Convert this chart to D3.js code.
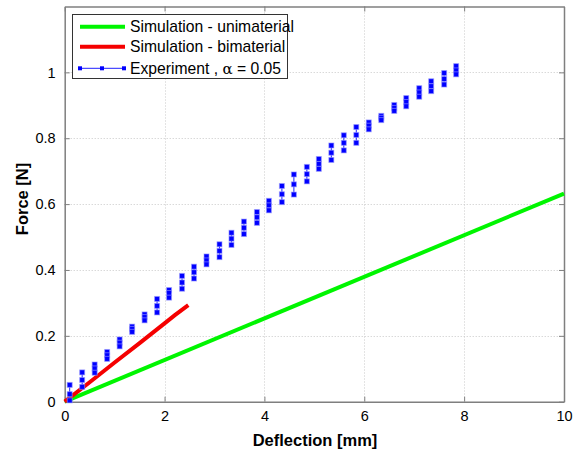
<!DOCTYPE html>
<html><head><meta charset="utf-8">
<script src="https://cdn.jsdelivr.net/npm/d3@7/dist/d3.min.js"></script>
<style>body{margin:0;background:#fff}svg{display:block}</style>
</head><body><div id="chart"></div>
<script>
// Simulation - unimaterial
const uniX = [0, 10];
const uniY = [0, 0.632];
// Simulation - bimaterial
const biX = [0, 0.5, 1.0, 1.5, 2.0, 2.2, 2.475];
const biY = [0, 0.059, 0.119, 0.178, 0.238, 0.262, 0.293];
// Experiment groups (x, high, mid, low)
const expX = [0.1, 0.35, 0.6, 0.85, 1.1, 1.35, 1.6, 1.85, 2.09, 2.35, 2.59, 2.84, 3.1, 3.34, 3.59, 3.85,
  4.09, 4.35, 4.59, 4.85, 5.09, 5.34, 5.59, 5.84, 6.09, 6.34, 6.6, 6.84, 7.1, 7.34, 7.6, 7.84];
const expHigh = [0.051, 0.089, 0.113, 0.151, 0.189, 0.228, 0.265, 0.312, 0.339, 0.382, 0.410, 0.441, 0.478, 0.513, 0.547, 0.576,
  0.610, 0.655, 0.690, 0.713, 0.737, 0.778, 0.809, 0.834, 0.848, 0.868, 0.901, 0.922, 0.952, 0.973, 0.998, 1.019];
const expMid = [0.023, 0.066, 0.101, 0.141, 0.179, 0.221, 0.257, 0.291, 0.330, 0.362, 0.393, 0.429, 0.458, 0.495, 0.528, 0.560,
  0.596, 0.630, 0.660, 0.691, 0.722, 0.756, 0.786, 0.810, 0.838, 0.862, 0.892, 0.910, 0.939, 0.958, 0.980, 1.006];
const expLow = [0.004, 0.045, 0.088, 0.130, 0.168, 0.212, 0.247, 0.271, 0.316, 0.343, 0.374, 0.417, 0.439, 0.476, 0.509, 0.543,
  0.581, 0.606, 0.629, 0.669, 0.707, 0.734, 0.763, 0.786, 0.827, 0.855, 0.883, 0.897, 0.926, 0.943, 0.963, 0.994];
const xTicks = [0, 2, 4, 6, 8, 10];
const yTicks = [0, 0.2, 0.4, 0.6, 0.8, 1];
const legendLabels = ["Simulation - unimaterial", "Simulation - bimaterial", "Experiment , "];

const W = 575, H = 453;
const m = {left: 64.7, right: 564, top: 6.5, bottom: 401.7};
const svg = d3.select("#chart").append("svg").attr("width", W).attr("height", H)
  .style("font-family", "Arial, 'Liberation Sans', Helvetica, sans-serif");
const x = d3.scaleLinear().domain([0, 10]).range([m.left, m.right]);
const y = d3.scaleLinear().domain([0, 1.2]).range([m.bottom, m.top]);

// grid
const grid = svg.append("g").attr("stroke", "#c8c8c8").attr("stroke-width", 1).attr("stroke-dasharray", "1,2");
xTicks.slice(1, -1).forEach(t => grid.append("line").attr("x1", Math.round(x(t)) + 0.5).attr("x2", Math.round(x(t)) + 0.5).attr("y1", m.top).attr("y2", m.bottom));
yTicks.slice(1).forEach(t => grid.append("line").attr("y1", Math.round(y(t)) + 0.5).attr("y2", Math.round(y(t)) + 0.5).attr("x1", m.left).attr("x2", m.right));

// axes
const axColor = "#7f7f7f";
const gx = svg.append("g").attr("transform", `translate(0,${m.bottom})`)
  .call(d3.axisBottom(x).tickValues(xTicks).tickFormat(d3.format("d")).tickSizeInner(-5).tickSizeOuter(0).tickPadding(9));
const gxt = svg.append("g").attr("transform", `translate(0,${m.top})`)
  .call(d3.axisTop(x).tickValues(xTicks).tickFormat("").tickSizeInner(-5).tickSizeOuter(0));
const gy = svg.append("g").attr("transform", `translate(${m.left},0)`)
  .call(d3.axisLeft(y).tickValues(yTicks).tickFormat(d => d === 0 ? "0" : d3.format("")(+d.toFixed(1))).tickSizeInner(-5).tickSizeOuter(0).tickPadding(9));
const gyr = svg.append("g").attr("transform", `translate(${m.right},0)`)
  .call(d3.axisRight(y).tickValues(yTicks).tickFormat("").tickSizeInner(-5).tickSizeOuter(0));
[gx, gxt, gy, gyr].forEach(g => {
  g.selectAll("path.domain").attr("stroke", axColor).attr("stroke-width", 1.5);
  g.selectAll(".tick line").attr("stroke", axColor);
  g.selectAll("text").attr("fill", "#000").style("font-size", "14.5px").style("font-family", "Arial, 'Liberation Sans', sans-serif");
});
gx.selectAll(".tick text").attr("dy", "0.71em");

// lines
const line = d3.line().x(d => x(d[0])).y(d => y(d[1]));
svg.append("path").datum(uniX.map((v, i) => [v, uniY[i]])).attr("d", line)
  .attr("fill", "none").attr("stroke", "#00f500").attr("stroke-width", 4);
svg.append("path").datum(biX.map((v, i) => [v, biY[i]])).attr("d", line)
  .attr("fill", "none").attr("stroke", "#f50000").attr("stroke-width", 4);

// experiment
const eg = svg.append("g");
expX.forEach((xv, i) => {
  eg.append("line").attr("x1", x(xv)).attr("x2", x(xv)).attr("y1", y(expLow[i])).attr("y2", y(expHigh[i]))
    .attr("stroke", "#2020ff").attr("stroke-width", 1);
  [expHigh[i], expMid[i], expLow[i]].forEach(v => {
    eg.append("rect").attr("x", x(xv) - 2.5).attr("y", y(v) - 2.5).attr("width", 5).attr("height", 5)
      .attr("fill", "#0000ff").attr("stroke", "#9999ff").attr("stroke-width", 1).attr("stroke-opacity", 0.6);
  });
});

// axis labels
svg.append("text").attr("x", 315).attr("y", 446).attr("text-anchor", "middle")
  .style("font-size", "16.5px").style("font-weight", "bold").text("Deflection [mm]");
svg.append("text").attr("transform", `translate(27.5,${199}) rotate(-90)`).attr("text-anchor", "middle")
  .style("font-size", "16.5px").style("font-weight", "bold").text("Force [N]");

// legend
const lg = svg.append("g");
lg.append("rect").attr("x", 72.5).attr("y", 14.5).attr("width", 215).attr("height", 64)
  .attr("fill", "#fff").attr("stroke", "#333").attr("stroke-width", 1);
const rows = [26.7, 46.7, 68.3];
lg.append("line").attr("x1", 80).attr("x2", 125).attr("y1", rows[0]).attr("y2", rows[0]).attr("stroke", "#00f500").attr("stroke-width", 4);
lg.append("line").attr("x1", 80).attr("x2", 125).attr("y1", rows[1]).attr("y2", rows[1]).attr("stroke", "#f50000").attr("stroke-width", 4);
lg.append("line").attr("x1", 80).attr("x2", 125).attr("y1", rows[2]).attr("y2", rows[2]).attr("stroke", "#2020ff").attr("stroke-width", 1);
[80, 102, 124].forEach(px => lg.append("rect").attr("x", px - 2).attr("y", rows[2] - 2).attr("width", 4).attr("height", 4).attr("fill", "#0000ff"));
legendLabels.forEach((t, i) => {
  const tx = lg.append("text").attr("x", 130).attr("y", rows[i]).attr("dy", "0.35em").style("font-size", "15.7px").text(t);
  if (i === 2) {
    tx.append("tspan").text("α").style("font-family", "'DejaVu Serif', serif").style("font-size", "15px");
    tx.append("tspan").text(" = 0.05");
  }
});
</script></body></html>
